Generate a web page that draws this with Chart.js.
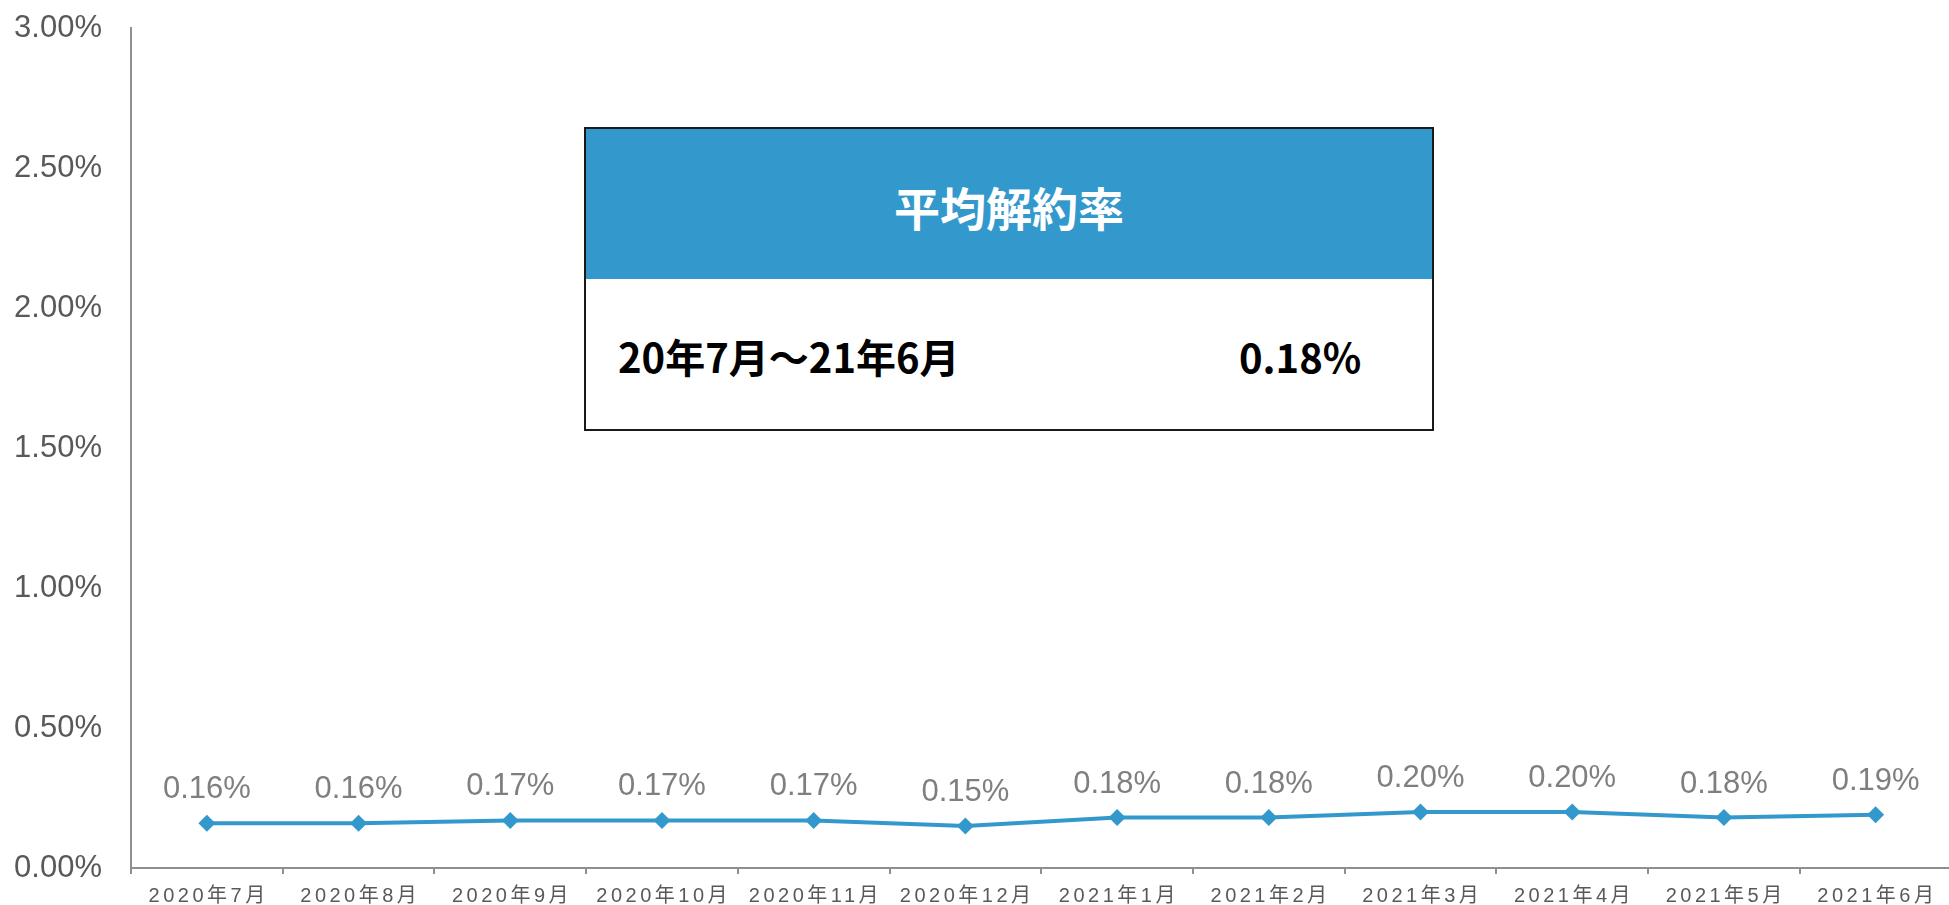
<!DOCTYPE html>
<html>
<head>
<meta charset="utf-8">
<script src="https://cdn.jsdelivr.net/npm/chart.js@4"></script>
<style>
html,body{margin:0;padding:0;overflow:hidden;background:#fff;width:1949px;height:905px;}
#wrap{position:absolute;left:0;top:0;width:1960px;height:905px;}
#box{position:absolute;left:584px;top:127px;width:846px;height:300px;border:2px solid #1a1a1a;background:#fff;font-family:"Noto Sans CJK JP","Noto Sans",sans-serif;}
#boxHead{position:absolute;left:0;top:0;right:0;height:150px;background:#3399cc;color:#fff;font-weight:bold;font-size:46px;display:flex;align-items:center;justify-content:center;padding-top:4px;box-sizing:border-box;}
#rowLabel{position:absolute;left:32px;top:227px;font-weight:bold;font-size:40px;color:#000;line-height:60px;transform:translateY(-50%);}
#rowValue{position:absolute;left:653px;top:227px;font-weight:bold;font-size:40px;color:#000;line-height:60px;transform:translateY(-50%);}
</style>
</head>
<body>
<div id="wrap"><canvas id="c" width="1960" height="905"></canvas></div>
<div id="box">
  <div id="boxHead">平均解約率</div>
  <div id="rowLabel">20年7月～21年6月</div>
  <div id="rowValue">0.18%</div>
</div>
<script>
const categories = ['2020年7月','2020年8月','2020年9月','2020年10月','2020年11月','2020年12月','2021年1月','2021年2月','2021年3月','2021年4月','2021年5月','2021年6月'];
const rates = [0.16,0.16,0.17,0.17,0.17,0.15,0.18,0.18,0.20,0.20,0.18,0.19];
const rateLabels = ['0.16%','0.16%','0.17%','0.17%','0.17%','0.15%','0.18%','0.18%','0.20%','0.20%','0.18%','0.19%'];
const yMin = 0, yMax = 3, yStep = 0.5;

const lineColor = '#3399cc';
const axisColor = '#8f8f8f';

const labelPlugin = {
  id: 'labels',
  afterDatasetsDraw(chart) {
    const ctx = chart.ctx;
    const meta = chart.getDatasetMeta(0);
    ctx.save();
    ctx.font = '31px "Liberation Sans", Arial, sans-serif';
    ctx.fillStyle = '#7f7f7f';
    ctx.textAlign = 'center';
    ctx.textBaseline = 'alphabetic';
    meta.data.forEach((pt, i) => {
      ctx.fillText(rateLabels[i], pt.x, pt.y - 25);
    });
    ctx.restore();
  },
  afterDraw(chart) {
    const ctx = chart.ctx;
    const xs = chart.scales.x;
    ctx.save();
    ctx.font = '20px "Liberation Sans", Arial, "Noto Sans CJK JP", sans-serif';
    ctx.fillStyle = '#595959';
    ctx.textAlign = 'center';
    ctx.textBaseline = 'alphabetic';
    ctx.letterSpacing = '3.5px';
    categories.forEach((c, i) => {
      const x = xs.getPixelForValue(i);
      ctx.fillText(c, x + 1.75, 902);
    });
    ctx.restore();
  }
};

new Chart(document.getElementById('c'), {
  type: 'line',
  data: {
    labels: categories,
    datasets: [{
      data: rates,
      borderColor: lineColor,
      backgroundColor: lineColor,
      borderWidth: 4,
      pointStyle: 'rectRot',
      pointRadius: 8.5,
      pointBackgroundColor: lineColor,
      pointBorderWidth: 0,
      tension: 0,
      clip: false
    }]
  },
  options: {
    responsive: false,
    animation: false,
    layout: { padding: { top: 28, left: 0, right: 0, bottom: 0 } },
    plugins: { legend: { display: false }, tooltip: { enabled: false } },
    scales: {
      x: {
        offset: true,
        grid: { display: true, drawOnChartArea: false, drawTicks: true, tickLength: 6, color: axisColor, lineWidth: 2, offset: true },
        border: { display: true, color: axisColor, width: 2 },
        ticks: { display: false, padding: 0 },
        afterFit(scale) { scale.height = 37; }
      },
      y: {
        min: yMin, max: yMax,
        grid: { display: false, drawTicks: true, tickLength: 29 },
        border: { display: true, color: axisColor, width: 2 },
        ticks: {
          stepSize: yStep,
          padding: 0,
          color: '#595959',
          font: { size: 31, family: '"Liberation Sans", Arial, sans-serif' },
          callback: v => Number(v).toFixed(2) + '%'
        },
        afterFit(scale) { scale.width = 131; }
      }
    }
  },
  plugins: [labelPlugin]
});
</script>
</body>
</html>
